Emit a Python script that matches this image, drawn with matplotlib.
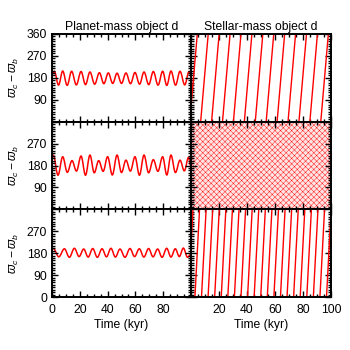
import matplotlib
matplotlib.use("Agg")
import matplotlib.pyplot as plt
from matplotlib.ticker import MultipleLocator
from matplotlib.path import Path
from matplotlib.patches import PathPatch

plt.rcParams['font.family'] = ['Liberation Sans', 'DejaVu Sans']
plt.rcParams['mathtext.fontset'] = 'custom'
plt.rcParams['mathtext.rm'] = 'Liberation Sans'
plt.rcParams['mathtext.it'] = 'Liberation Sans:italic'
plt.rcParams['hatch.linewidth'] = 0.3

# ---------------- data ----------------
titles = ["Planet-mass object d", "Stellar-mass object d"]
ylabel = r"$\varpi_c-\varpi_b$"
xlabel = "Time (kyr)"

# Planet-mass case: libration (extremes of the oscillation)
p1_t = [0, 1.7, 4.7, 7.7, 10.9, 14.1, 17.5, 20.9, 24.1, 27.3, 30.7, 34.1, 37.3, 40.5,
        43.7, 46.8, 50.0, 53.2, 56.5, 59.7, 63.0, 66.2, 69.6, 72.9, 76.3, 79.6, 82.6,
        85.6, 88.9, 92.1, 95.5, 98.6, 100]
p1_v = [195, 207, 150, 208, 149, 207, 151, 206, 152, 204, 154, 201, 156, 200,
        157, 199, 157, 200, 156, 202, 154, 204, 152, 206, 150, 207, 149,
        208, 150, 207, 151, 206, 190]

p2_t = [0, 1.0, 4.3, 7.7, 11.0, 14.4, 17.6, 20.9, 24.1, 27.3, 30.4, 33.6, 36.8, 40.0,
        43.4, 46.8, 50.0, 53.2, 56.4, 59.7, 62.9, 66.2, 69.5, 72.9, 76.2, 79.6, 82.6,
        85.6, 88.8, 92.1, 95.2, 98.3, 100]
p2_v = [212, 222, 140, 216, 152, 200, 157, 219, 140, 223, 150, 200, 156, 216,
        141, 223, 151, 202, 157, 216, 140, 223, 150, 204, 156, 216, 141,
        223, 151, 202, 158, 214, 172]

p3_t = [0, 1.0, 4.9, 8.9, 12.5, 16.1, 19.5, 22.8, 26.0, 29.3, 32.6, 36.0, 39.2, 42.4,
        45.6, 48.9, 52.5, 56.1, 59.4, 62.8, 66.1, 69.5, 72.7, 76.0, 79.2, 82.5, 85.6,
        88.7, 91.6, 94.5, 97.5, 100]
p3_v = [196, 199, 165, 198, 163, 200, 166, 197, 164, 199, 163, 198, 165, 200,
        164, 197, 163, 199, 166, 198, 164, 199, 165, 197, 163, 200, 164,
        198, 166, 201, 163, 176]

# Stellar-mass case, top: circulation (start time at 0 deg, end time at 360 deg)
s1_start = [-0.9, 6.9, 14.7, 22.5, 30.3, 38.1, 45.9, 53.7, 61.5, 69.3, 77.1, 84.9, 92.7]
s1_end = [4.5, 12.3, 20.1, 27.9, 35.7, 43.5, 51.3, 59.1, 66.9, 74.7, 82.5, 90.3, 98.1]

# Stellar-mass case, middle: chaotic cloud covering the full range
s2_time_range = [0, 100]
s2_low = [0, 0]
s2_high = [360, 360]

# Stellar-mass case, bottom: faster circulation
s3_start = [-1.9, 2.8, 7.5, 12.2, 16.9, 21.6, 26.3, 31.0, 35.7, 40.4, 45.1, 49.8, 54.5,
            59.2, 63.9, 68.6, 73.3, 78.0, 82.7, 87.4, 92.1, 96.8]
s3_end = [1.4, 6.1, 10.8, 15.5, 20.2, 24.9, 29.6, 34.3, 39.0, 43.7, 48.4, 53.1, 57.8,
          62.5, 67.2, 71.9, 76.6, 81.3, 86.0, 90.7, 95.4, 100.1]

ytick_sets = [[90, 180, 270, 360], [90, 180, 270], [0, 90, 180, 270]]
xticks_left = [0, 20, 40, 60, 80]
xticks_right = [20, 40, 60, 80, 100]

FS = 8.7

# ---------------- figure ----------------
W = H = 350.0
fig = plt.figure(figsize=(3.5, 3.5), dpi=100)
xl0, xl1, xr1 = 52, 191, 331
ytop, ybot = 34, 297
ph = (ybot - ytop) / 3.0

red = '#ff0000'


def smooth_path(t, v):
    # Bezier segments between successive extremes, flat tangents at each extreme
    verts = [(t[0], v[0])]
    codes = [Path.MOVETO]
    for i in range(1, len(t)):
        dt = t[i] - t[i - 1]
        verts += [(t[i - 1] + dt * 0.36, v[i - 1]), (t[i] - dt * 0.36, v[i]), (t[i], v[i])]
        codes += [Path.CURVE4] * 3
    return Path(verts, codes)


axes = []
for r in range(3):
    row = []
    for c in range(2):
        x0 = xl0 if c == 0 else xl1
        x1 = xl1 if c == 0 else xr1
        y0 = ytop + r * ph
        ax = fig.add_axes([x0 / W, 1 - (y0 + ph) / H, (x1 - x0) / W, ph / H])
        ax.set_xlim(0, 100)
        ax.set_ylim(0, 360)
        for s in ax.spines.values():
            s.set_linewidth(1.4)
        ax.xaxis.set_minor_locator(MultipleLocator(5))
        ax.yaxis.set_minor_locator(MultipleLocator(10))
        ax.tick_params(which='both', direction='in', top=True, right=True,
                       labelsize=FS, width=1.0, pad=3.5)
        ax.tick_params(which='major', length=4.5)
        ax.tick_params(which='minor', length=2.2)
        row.append(ax)
    axes.append(row)

# left column: libration curves
for r, (t, v) in enumerate([(p1_t, p1_v), (p2_t, p2_v), (p3_t, p3_v)]):
    ax = axes[r][0]
    ax.add_patch(PathPatch(smooth_path(t, v), fill=False, edgecolor=red, lw=1.1,
                           joinstyle='round'))
    ax.set_yticks([0, 90, 180, 270, 360])
    ax.set_yticklabels([str(k) if k in ytick_sets[r] else '' for k in [0, 90, 180, 270, 360]])
    ax.set_ylabel(ylabel, fontsize=FS, labelpad=4)

# right column
for s0, s1 in zip(s1_start, s1_end):
    axes[0][1].plot([s0, s1], [0, 360], color=red, lw=1.0)
axes[1][1].fill_between(s2_time_range, s2_low, s2_high, facecolor='#ffe4e4',
                        edgecolor=red, hatch='xxxxxx', linewidth=0)
for s0, s1 in zip(s3_start, s3_end):
    axes[2][1].plot([s0, s1], [0, 360], color=red, lw=1.0)
for r in range(3):
    ax = axes[r][1]
    ax.set_yticks([0, 90, 180, 270, 360])
    ax.set_yticklabels([])

for r in range(3):
    for c in range(2):
        ax = axes[r][c]
        ax.set_xticks([0, 20, 40, 60, 80, 100])
        if r < 2:
            ax.set_xticklabels([])
        else:
            shown = xticks_left if c == 0 else xticks_right
            ax.set_xticklabels([str(k) if k in shown else '' for k in [0, 20, 40, 60, 80, 100]])
            ax.tick_params(axis='x', pad=5)
            ax.set_xlabel(xlabel, fontsize=FS, labelpad=2)

axes[0][0].set_title(titles[0], fontsize=FS, pad=3)
axes[0][1].set_title(titles[1], fontsize=FS, pad=3)

fig.savefig('out.png', dpi=100)
